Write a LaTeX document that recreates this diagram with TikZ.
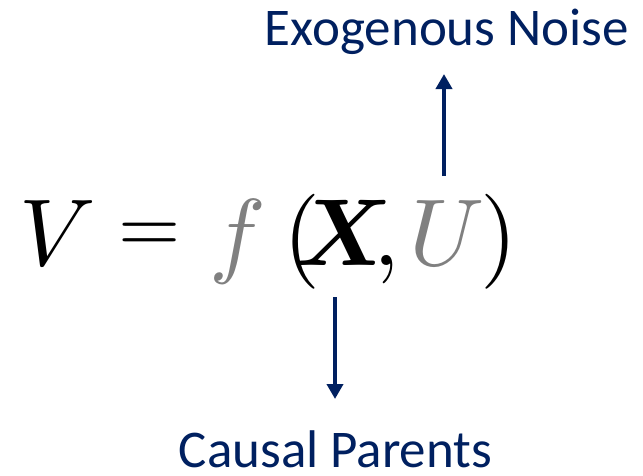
\documentclass[tikz,border=0pt]{standalone}
\usepackage{amsmath}
\usepackage{graphicx}
\usepackage{fontspec}
\newfontfamily\labelfont{Carlito}
\usetikzlibrary{arrows.meta}
\definecolor{navy}{RGB}{0,32,96}
\definecolor{fgray}{RGB}{128,128,128}
\tikzset{
  lbl/.style={font=\labelfont\fontsize{53}{60}\selectfont, text=navy, inner sep=0pt, anchor=base},
  glyph/.style={inner sep=0pt, anchor=base},
  arr/.style={draw=navy, line width=4pt, -{Triangle[width=16pt,length=15pt]}}
}
\newcommand{\eqglyph}[1]{\scalebox{9.5}{$#1$}}
\begin{document}
\begin{tikzpicture}[x=1pt,y=-1pt]
\useasboundingbox (0,0) rectangle (643,475);
% equation V = f(X, U), one glyph per node
\node[glyph] (v) at (58,265) {\eqglyph{V}};
\node[inner sep=0pt, anchor=center] (eqs) at (149.5,237.5) {\scalebox{8}{$=$}};
\node[glyph, text=fgray] (f) at (238,265) {\eqglyph{f}};
\node[glyph] (lp) at (302,265) {\eqglyph{(}};
\node[glyph] (x) at (344,265) {\eqglyph{\boldsymbol{X}}};
\node[glyph] (comma) at (387,265) {\eqglyph{,}};
\node[glyph, text=fgray] (u) at (447,265) {\eqglyph{U}};
\node[glyph] (rp) at (499,265) {\eqglyph{)}};
% labels
\node[lbl] (noise) at (447,45) {Exogenous Noise};
\node[lbl, text depth=0pt] (parents) at (335.5,467) {Causal Parents};
% arrows
\coordinate (ustart) at (444,176);
\coordinate (uend) at (444,74);
\coordinate (xstart) at (335,297);
\coordinate (xend) at (335,399);
\draw[arr] (ustart) -- (uend);
\draw[arr] (xstart) -- (xend);
\end{tikzpicture}
\end{document}
